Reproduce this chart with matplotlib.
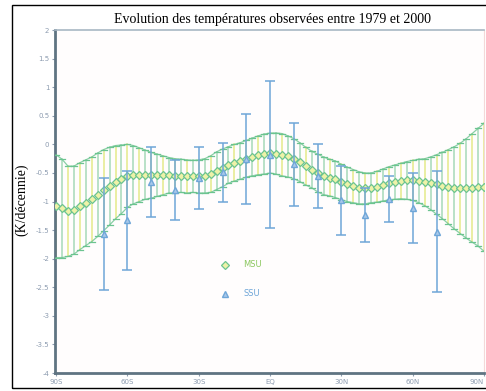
import numpy as np
import matplotlib
matplotlib.use("Agg")
import matplotlib.pyplot as plt
from matplotlib.patches import Rectangle
from matplotlib.lines import Line2D

# MSU: latitude every 2.5 deg, trend (K/decade) and half-width of the band
msu_lat = np.arange(-90, 90.1, 2.5)
msu_val = [-1.08, -1.12, -1.17, -1.15, -1.08, -1.02, -0.96, -0.88, -0.80, -0.73,
           -0.66, -0.61, -0.55, -0.53, -0.53, -0.53, -0.54, -0.54, -0.54, -0.54,
           -0.55, -0.55, -0.56, -0.56, -0.56, -0.55, -0.52, -0.46, -0.41, -0.36,
           -0.32, -0.29, -0.25, -0.22, -0.19, -0.17, -0.15, -0.16, -0.18, -0.21,
           -0.25, -0.31, -0.38, -0.44, -0.50, -0.55, -0.58, -0.61, -0.66, -0.70,
           -0.73, -0.76, -0.77, -0.76, -0.74, -0.71, -0.68, -0.66, -0.64, -0.63,
           -0.63, -0.64, -0.66, -0.68, -0.70, -0.72, -0.74, -0.76, -0.77, -0.77,
           -0.76, -0.75, -0.75]
msu_err = [0.90, 0.86, 0.79, 0.77, 0.76, 0.75, 0.74, 0.73, 0.71, 0.68,
           0.64, 0.60, 0.55, 0.51, 0.47, 0.43, 0.40, 0.37, 0.34, 0.31,
           0.30, 0.29, 0.29, 0.28, 0.29, 0.30, 0.32, 0.33, 0.33, 0.32,
           0.32, 0.32, 0.32, 0.33, 0.34, 0.35, 0.35, 0.36, 0.37, 0.36,
           0.35, 0.34, 0.33, 0.32, 0.33, 0.33, 0.32, 0.32, 0.31, 0.30,
           0.29, 0.28, 0.27, 0.26, 0.27, 0.28, 0.29, 0.30, 0.31, 0.33,
           0.35, 0.38, 0.41, 0.46, 0.52, 0.58, 0.65, 0.72, 0.79, 0.87,
           0.95, 1.03, 1.12]

# SSU: every 10 deg
ssu_lat = [-70, -60, -50, -40, -30, -20, -10, 0, 10, 20, 30, 40, 50, 60, 70]
ssu_val = [-1.56, -1.33, -0.66, -0.80, -0.59, -0.49, -0.26, -0.18, -0.35, -0.56,
           -0.98, -1.23, -0.95, -1.11, -1.53]
ssu_err = [0.98, 0.86, 0.61, 0.52, 0.54, 0.51, 0.79, 1.29, 0.73, 0.56,
           0.60, 0.47, 0.40, 0.61, 1.06]

xticks = [-90, -60, -30, 0, 30, 60, 90]
xlabels = ["90S", "60S", "30S", "EQ", "30N", "60N", "90N"]
yticks = [2, 1.5, 1, 0.5, 0, -0.5, -1, -1.5, -2, -2.5, -3, -3.5, -4]
ylabels = ["2", "1.5", "1", "0.5", "0", "-0.5", "-1", "-1.5", "-2", "-2.5", "-3", "-3.5", "-4"]

green = "#6cc490"
yellow = "#e4ea8a"
blue = "#6fa6d8"
spine = "#5f7482"

fig = plt.figure(figsize=(4.86, 3.91), dpi=100)
ax = fig.add_axes([0.113, 0.046, 0.883, 0.877])
ax.set_facecolor("#fffdfd")

m = np.array(msu_val)
e = np.array(msu_err)
# hatched band: vertical bars alternating yellow / green, green caps
for i, (x, v, d) in enumerate(zip(msu_lat, m, e)):
    c = yellow if i % 2 == 0 else "#a6d9b8"
    ax.plot([x, x], [v - d, v + d], color=c, lw=1.1, zorder=2)
    ax.plot([x - 1.25, x + 1.25], [v + d, v + d], color=green, lw=0.9, zorder=3)
    ax.plot([x - 1.25, x + 1.25], [v - d, v - d], color=green, lw=0.9, zorder=3)
ax.plot(msu_lat, m + e, color=green, lw=0.9, alpha=0.8, zorder=3)
ax.plot(msu_lat, m - e, color=green, lw=0.9, alpha=0.8, zorder=3)
ax.plot(msu_lat, m, ls="none", marker="D", ms=3.8, mfc="#eef2a8", mec=green,
        mew=0.9, zorder=4)

ax.errorbar(ssu_lat, ssu_val, yerr=ssu_err, fmt="^", color=blue, ms=5,
            mfc="#a9c8ea", mec=blue, ecolor=blue, elinewidth=1.1, capsize=3.5,
            capthick=1.1, zorder=5)

ax.set_xlim(-90.5, 89.5)
ax.set_ylim(-4, 2)
ax.set_xticks(xticks)
ax.set_xticklabels(xlabels)
ax.get_xticklabels()[-1].set_ha("right")
ax.set_yticks(yticks)
ax.set_yticklabels(ylabels)
ax.tick_params(labelsize=5, colors="#8d9cb0", length=2, width=0.8, pad=2)

for s in ["left", "bottom"]:
    ax.spines[s].set_color(spine)
    ax.spines[s].set_linewidth(2)
ax.spines["top"].set_color("#a8b8c4")
ax.spines["top"].set_linewidth(1.2)
ax.spines["right"].set_color("#f4d8d8")
ax.spines["right"].set_linewidth(0.8)

handles = [Line2D([], [], ls="none", marker="D", ms=4, mfc="#eef2a8", mec=green, mew=0.9),
           Line2D([], [], ls="none", marker="^", ms=5, mfc="#a9c8ea", mec=blue)]
leg = ax.legend(handles, ["MSU", "SSU"], loc="upper left", bbox_to_anchor=(0.36, 0.35),
                frameon=False, fontsize=6, handletextpad=1.2, labelspacing=2.4)
leg.get_texts()[0].set_color("#8cc860")
leg.get_texts()[1].set_color(blue)

# outer frame, title and y label
fig.patches.append(Rectangle((0.025, 0.008), 1.0, 0.979, transform=fig.transFigure,
                             fill=False, ec="black", lw=1.0))
fig.text(0.56, 0.949, "Evolution des températures observées entre 1979 et 2000",
         ha="center", va="center", fontsize=10, family="Liberation Serif",
         bbox=dict(fc="white", ec="none", pad=1))
fig.text(0.045, 0.49, "(K/décennie)", rotation=90, ha="center", va="center",
         fontsize=10, family="Liberation Serif",
         bbox=dict(fc="white", ec="none", pad=1))

fig.savefig("out.png", dpi=100)
